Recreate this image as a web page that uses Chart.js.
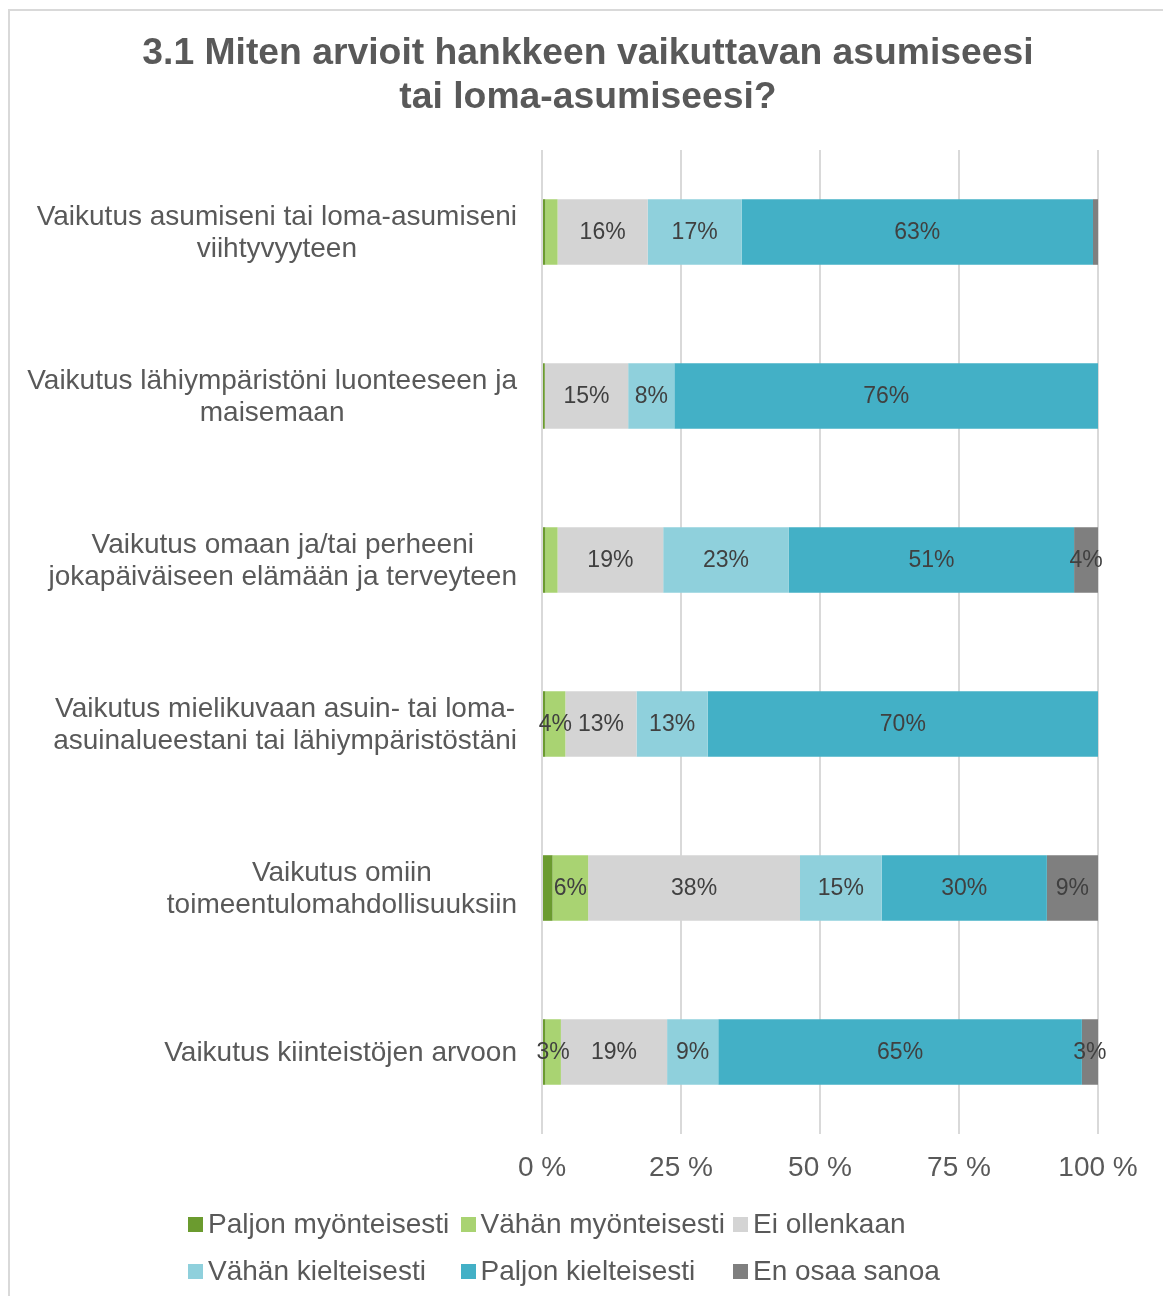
<!DOCTYPE html>
<html>
<head>
<meta charset="utf-8">
<script src="https://cdn.jsdelivr.net/npm/chart.js@4/dist/chart.umd.min.js"></script>
<style>
  html, body { margin: 0; padding: 0; background: #fff; }
  body { width: 1163px; height: 1296px; position: relative; overflow: hidden; font-family: 'Liberation Sans', Arial, sans-serif; }
  #frame { position: absolute; left: 8px; top: 9px; width: 1180px; height: 1320px; border: 2px solid #d9d9d9; box-sizing: border-box; }
  #wrap { position: absolute; left: 0; top: 0; width: 1163px; height: 1296px; }
  .lg { position: absolute; height: 30px; display: flex; align-items: center; font-size: 28px; color: #595959; white-space: nowrap; }
  .lg i { display: inline-block; width: 15px; height: 15px; margin-right: 5px; }
</style>
</head>
<body>
<div id="frame"></div>
<div id="wrap"><canvas id="c"></canvas></div>
<div id="legend"></div>
<script>
const titleLines = ['3.1 Miten arvioit hankkeen vaikuttavan asumiseesi', 'tai loma-asumiseesi?'];
const categories = [
  ['Vaikutus asumiseni tai loma-asumiseni', 'viihtyvyyteen'],
  ['Vaikutus lähiympäristöni luonteeseen ja', 'maisemaan'],
  ['Vaikutus omaan ja/tai perheeni', 'jokapäiväiseen elämään ja terveyteen'],
  ['Vaikutus mielikuvaan asuin- tai loma-', 'asuinalueestani tai lähiympäristöstäni'],
  ['Vaikutus omiin', 'toimeentulomahdollisuuksiin'],
  ['Vaikutus kiinteistöjen arvoon']
];
const seriesNames = ['Paljon myönteisesti', 'Vähän myönteisesti', 'Ei ollenkaan', 'Vähän kielteisesti', 'Paljon kielteisesti', 'En osaa sanoa'];
const paljonMyonteisesti = [0.6, 0.5, 0.6, 0.6, 1.9, 0.6];
const vahanMyonteisesti  = [2.2, 0.0, 2.2, 3.6, 6.4, 2.8];
const eiOllenkaan        = [16.2, 15.0, 19.0, 12.8, 38.1, 19.1];
const vahanKielteisesti  = [16.9, 8.3, 22.6, 12.8, 14.7, 9.2];
const paljonKielteisesti = [63.2, 76.2, 51.3, 70.2, 29.7, 65.4];
const enOsaaSanoa        = [0.9, 0.0, 4.3, 0.0, 9.2, 2.9];
const xTicks = [0, 25, 50, 75, 100];
const colors = ['#6b9b2f', '#a9d372', '#d4d4d4', '#8fd0dc', '#43b0c6', '#7f7f7f'];

const seriesValues = [paljonMyonteisesti, vahanMyonteisesti, eiOllenkaan, vahanKielteisesti, paljonKielteisesti, enOsaaSanoa];
const FONT = "'Liberation Sans', Arial, sans-serif";

const titlePlugin = {
  id: 'titleLines',
  afterDraw(chart) {
    const ctx = chart.ctx;
    ctx.save();
    ctx.font = 'bold 37.3px ' + FONT;
    ctx.fillStyle = '#595959';
    ctx.textAlign = 'center';
    ctx.textBaseline = 'middle';
    titleLines.forEach((l, k) => ctx.fillText(l, 588, 54 + k * 44));
    ctx.restore();
  }
};

const barLabels = {
  id: 'barLabels',
  afterDatasetsDraw(chart) {
    const ctx = chart.ctx;
    ctx.save();
    ctx.font = '23px ' + FONT;
    ctx.fillStyle = '#404040';
    ctx.textAlign = 'center';
    ctx.textBaseline = 'middle';
    chart.data.datasets.forEach((ds, di) => {
      const meta = chart.getDatasetMeta(di);
      meta.data.forEach((el, i) => {
        const v = ds.data[i];
        if (v >= 2.5) {
          ctx.fillText(Math.round(v) + '%', (el.x + el.base) / 2, el.y + 1);
        }
      });
    });
    ctx.restore();
  }
};

const catLabels = {
  id: 'catLabels',
  afterDraw(chart) {
    const ctx = chart.ctx;
    const ys = chart.scales.y;
    const right = chart.chartArea.left - 25;
    const lh = 32;
    ctx.save();
    ctx.font = '28px ' + FONT;
    ctx.fillStyle = '#595959';
    ctx.textAlign = 'center';
    ctx.textBaseline = 'middle';
    chart.data.labels.forEach((lines, i) => {
      const yc = ys.getPixelForValue(i) + 1;
      const w = Math.max(...lines.map(l => ctx.measureText(l).width));
      const cx = right - w / 2;
      lines.forEach((l, k) => {
        ctx.fillText(l, cx, yc - (lines.length - 1) * lh / 2 + k * lh);
      });
    });
    ctx.restore();
  }
};

const chart = new Chart(document.getElementById('c'), {
  type: 'bar',
  data: {
    labels: categories,
    datasets: seriesNames.map((n, i) => ({
      label: n,
      data: seriesValues[i],
      backgroundColor: colors[i],
      borderWidth: 0,
      barPercentage: 0.4,
      categoryPercentage: 1
    }))
  },
  options: {
    indexAxis: 'y',
    responsive: true,
    maintainAspectRatio: false,
    animation: false,
    devicePixelRatio: 1,
    layout: { padding: { left: 0, right: 65, top: 150, bottom: 102 } },
    plugins: {
      legend: { display: false },
      tooltip: { enabled: false },
      title: { display: false }
    },
    scales: {
      x: {
        stacked: true,
        min: 0, max: 100,
        afterBuildTicks(s) { s.ticks = xTicks.map(v => ({ value: v })); },
        afterFit(s) { s.height = 60; },
        ticks: {
          color: '#595959',
          padding: 17,
          font: { family: FONT, size: 28 },
          callback: v => v + ' %'
        },
        grid: { color: '#d9d9d9', lineWidth: 2, drawTicks: false },
        border: { display: false }
      },
      y: {
        stacked: true,
        afterFit(s) { s.width = 542; },
        ticks: { display: false },
        grid: { display: false },
        border: { display: false }
      }
    }
  },
  plugins: [barLabels, catLabels, titlePlugin]
});

const legend = document.getElementById('legend');
seriesNames.forEach((n, i) => {
  const d = document.createElement('div');
  d.className = 'lg';
  d.style.left = (188 + (i % 3) * 272.5) + 'px';
  d.style.top = (1209 + Math.floor(i / 3) * 47) + 'px';
  const b = document.createElement('i');
  b.style.background = colors[i];
  d.appendChild(b);
  d.appendChild(document.createTextNode(n));
  legend.appendChild(d);
});
</script>
</body>
</html>
